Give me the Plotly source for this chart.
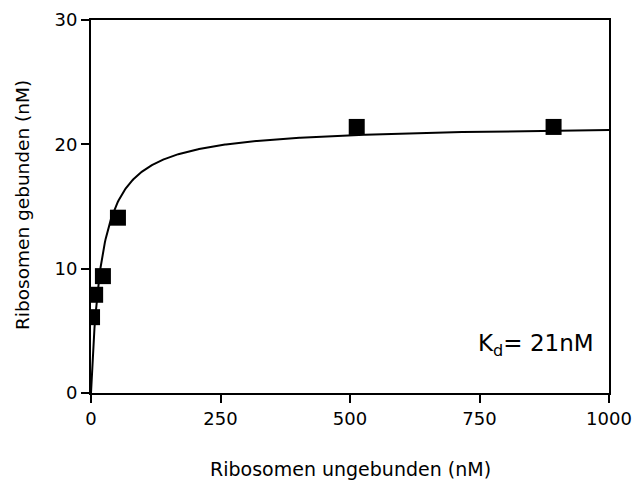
import numpy as np
import plotly.graph_objects as go

# Data
free_nM = [2, 8, 23, 52, 513, 893]
bound_nM = [6.1, 7.9, 9.4, 14.1, 21.4, 21.4]

# Fit parameters (one-site binding)
Kd = 21.0
Bmax = 21.6

x_tick_vals = [0, 250, 500, 750, 1000]
y_tick_vals = [0, 10, 20, 30]
x_title = "Ribosomen ungebunden (nM)"
y_title = "Ribosomen gebunden (nM)"

xfit = np.linspace(0, 1000, 600)
yfit = Bmax * xfit / (Kd + xfit)

font_family = "DejaVu Sans"

L, R, T, B = 91, 24, 20, 89
W, H = 633, 482
pw, ph = W - L - R, H - T - B

fig = go.Figure()
fig.add_trace(go.Scatter(x=xfit, y=yfit, mode="lines",
                         line=dict(color="black", width=2), showlegend=False,
                         hoverinfo="skip"))
fig.add_trace(go.Scatter(x=free_nM, y=bound_nM, mode="markers",
                         marker=dict(symbol="square", size=16, color="black",
                                     line=dict(width=0)),
                         showlegend=False))

fig.add_annotation(x=0.975, y=0.13, xref="paper", yref="paper",
                   text="K<sub>d</sub>= 21nM", showarrow=False,
                   xanchor="right", yanchor="middle",
                   font=dict(family=font_family, size=23, color="black"))
fig.add_annotation(x=(350 - L) / pw, y=-(469 - (T + ph)) / ph,
                   xref="paper", yref="paper", text=x_title, showarrow=False,
                   xanchor="center", yanchor="middle",
                   font=dict(family=font_family, size=19, color="black"))
fig.add_annotation(x=-(L - 22) / pw, y=((T + ph) - 205) / ph,
                   xref="paper", yref="paper", text=y_title, showarrow=False,
                   textangle=-90, xanchor="center", yanchor="middle",
                   font=dict(family=font_family, size=18.5, color="black"))

fig.update_layout(
    width=W, height=H,
    margin=dict(l=L, r=R, t=T, b=B),
    paper_bgcolor="white", plot_bgcolor="white",
    font=dict(family=font_family, color="black"),
    xaxis=dict(range=[0, 1000], tickvals=x_tick_vals, ticks="outside",
               ticklen=8, tickwidth=2, tickcolor="black",
               showline=True, linewidth=2, linecolor="black", mirror=True,
               showgrid=False, zeroline=False, automargin=False,
               ticklabeloverflow="allow",
               tickfont=dict(size=18, family=font_family)),
    yaxis=dict(range=[0, 30], tickvals=y_tick_vals, ticks="outside",
               ticklen=8, tickwidth=2, tickcolor="black",
               showline=True, linewidth=2, linecolor="black", mirror=True,
               showgrid=False, zeroline=False, automargin=False,
               ticklabeloverflow="allow",
               tickfont=dict(size=18, family=font_family)),
)

fig.write_html("out.html")
